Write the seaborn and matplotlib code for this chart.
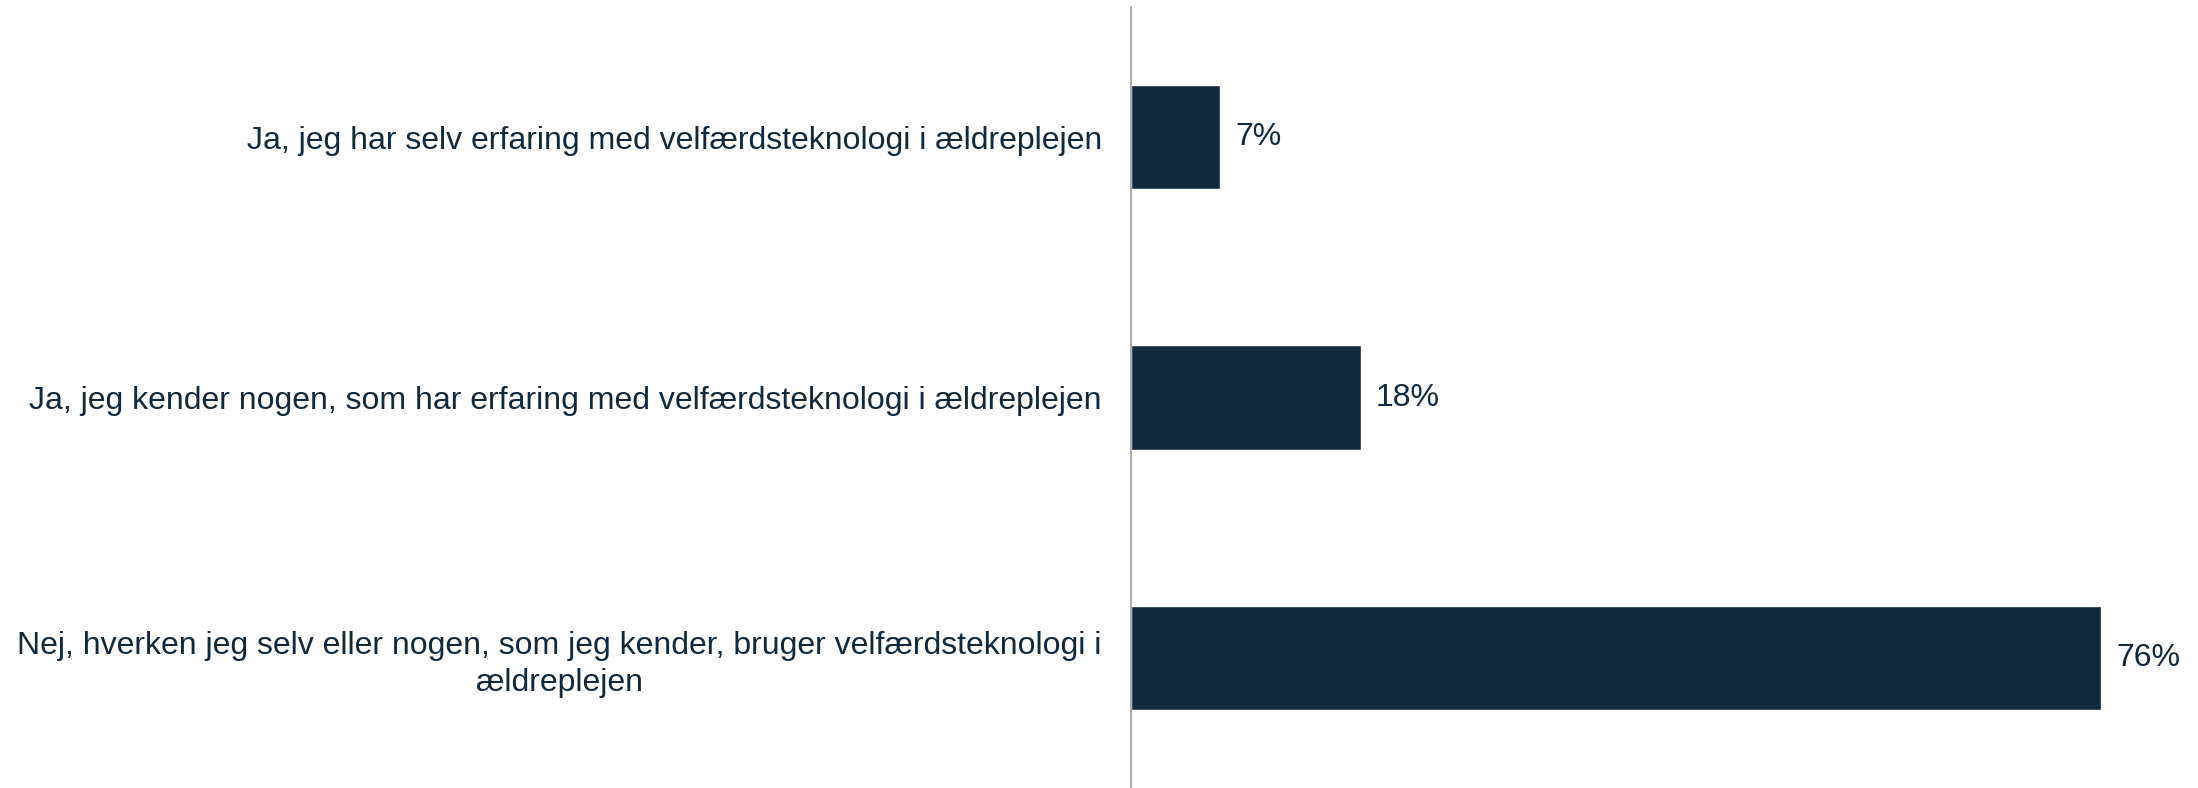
import matplotlib
matplotlib.use("Agg")
import matplotlib.pyplot as plt
import seaborn as sns
import pandas as pd

categories = [
    "Ja, jeg har selv erfaring med velfærdsteknologi i ældreplejen",
    "Ja, jeg kender nogen, som har erfaring med velfærdsteknologi i ældreplejen",
    "Nej, hverken jeg selv eller nogen, som jeg kender, bruger velfærdsteknologi i\nældreplejen",
]
values = [7, 18, 76]
value_labels = ["7%", "18%", "76%"]

BAR = "#12283D"
TEXT = "#12283D"

sns.set_theme(style="white")
plt.rcParams["font.family"] = ["Liberation Sans", "DejaVu Sans"]

df = pd.DataFrame({"cat": categories, "val": values})

fig = plt.figure(figsize=(21.98, 7.88), dpi=100)
ax = fig.add_axes([1131 / 2198, 0.0, 1 - 1131 / 2198, 1 - 7 / 788])

sns.barplot(data=df, x="val", y="cat", orient="h", color=BAR, width=0.4,
            saturation=1, ax=ax)

ax.set_xlim(0, 83.6)
ax.set_ylim(2.5, -0.5)
ax.set_xlabel("")
ax.set_ylabel("")
ax.set_xticks([])

for s in ["top", "right", "bottom"]:
    ax.spines[s].set_visible(False)
ax.spines["left"].set_color("#A6A6A6")
ax.spines["left"].set_linewidth(1.3)

ax.tick_params(axis="y", length=0, pad=21, labelsize=23, labelcolor=TEXT)
for lbl in ax.get_yticklabels():
    lbl.set_multialignment("center")
    lbl.set_linespacing(1.28)

for i, (v, t) in enumerate(zip(values, value_labels)):
    ax.annotate(t, xy=(v, i), xytext=(11, 0), textcoords="offset points",
                va="center", ha="left", fontsize=23, color=TEXT)

fig.savefig("out.png", dpi=100)
